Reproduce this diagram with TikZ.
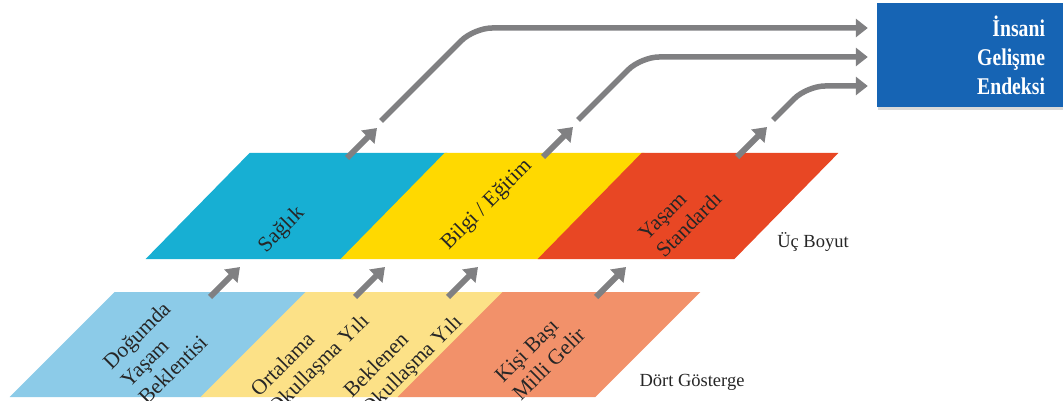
\documentclass[tikz,border=0pt]{standalone}
\usepackage{fontspec}
\setmainfont{Liberation Serif}
\newfontfamily\idefont[FakeStretch=0.82]{Liberation Serif}
\usepackage{tikz}
\usetikzlibrary{arrows.meta,shadows,positioning}
\definecolor{saglikc}{RGB}{23,175,211}
\definecolor{bilgic}{RGB}{255,217,0}
\definecolor{yasamc}{RGB}{232,71,36}
\definecolor{dogumc}{RGB}{140,203,232}
\definecolor{okulc}{RGB}{252,225,135}
\definecolor{gelirc}{RGB}{242,145,106}
\definecolor{ideblue}{RGB}{22,100,180}
\definecolor{okgray}{RGB}{128,128,130}
\tikzstyle{band}=[draw=white,line width=2pt]
\tikzstyle{lbl}=[rotate=45,align=left,inner sep=0pt,text=black!85,font=\fontsize{21.5}{25}\selectfont]
\tikzstyle{note}=[text=black!85,font=\fontsize{18.5}{22}\selectfont]
\tikzstyle{up}=[-{Triangle[length=13pt,width=18pt]},line width=6pt,draw=okgray]
\tikzstyle{long}=[-{Triangle[length=12pt,width=18pt]},line width=5.5pt,draw=okgray,rounded corners=18pt,shorten >=9pt]

\begin{document}
\begin{tikzpicture}[x=1pt,y=-1pt]
      \useasboundingbox (0,0) rectangle (1063,401);
      % uc boyut
      \fill[band,saglikc] (250,154) -- (445,154) -- (343,258) -- (148,258) -- cycle;
      \fill[band,bilgic]  (445,154) -- (642,154) -- (540,258) -- (343,258) -- cycle;
      \fill[band,yasamc]  (642,154) -- (836,154) -- (734,258) -- (540,258) -- cycle;
      % dort gosterge
      \fill[band,dogumc]  (115,293) -- (306,293) -- (203,396) -- (12,396) -- cycle;
      \fill[band,okulc]   (306,293) -- (405,293) -- (302,396) -- (203,396) -- cycle;
      \fill[band,okulc]   (405,293) -- (503,293) -- (400,396) -- (302,396) -- cycle;
      \fill[band,gelirc]  (503,293) -- (698,293) -- (595,396) -- (400,396) -- cycle;

      \node[lbl] at (282,230) (saglik) {Sağlık};
      \node[lbl] at (487,205) (bilgi) {Bilgi / Eğitim};
      \node[lbl] at (680,216) (yasam) {Yaşam\\Standardı};
      \node[lbl] at (155,352) (dogum) {Doğumda\\Yaşam\\Beklentisi};
      \node[lbl] at (311,356) (ortalama) {Ortalama\\Okullaşma Yılı};
      \node[lbl] at (404,357) (beklenen) {Beklenen\\Okullaşma Yılı};
      \node[lbl] at (540,355) (gelir) {Kişi Başı\\Milli Gelir};
      \node[note] at (813,242) (ucboyut) {Üç Boyut};
      \node[note] at (692,382) (dortgost) {Dört Gösterge};

      \node[fill=ideblue,drop shadow={opacity=0.3,shadow xshift=1pt,shadow yshift=-3pt},
            minimum width=186pt,minimum height=104pt,text width=150pt,inner xsep=18pt,
            align=right,text=white,font=\idefont\bfseries\fontsize{24}{29}\selectfont]
            at (970,55) (ide) {İnsani\\Gelişme\\Endeksi};

      \foreach \n/\x/\y in {1/210/297, 2/355/297, 3/448/297, 4/596/297, 5/347/158, 6/543/157, 7/737/157}
      {
        \coordinate (u\n) at (\x,\y);
        \coordinate (v\n) at (\x+30,\y-30);
        \draw[up] (u\n) -- (v\n);
      }

      \coordinate (a1) at (381,121); \coordinate (k1) at (474,28);
      \coordinate (a2) at (578,120); \coordinate (k2) at (641,57);
      \coordinate (a3) at (773,120); \coordinate (k3) at (807,86);
      \draw[long] (a1) -- (k1) -- (ide.west |- k1);
      \draw[long] (a2) -- (k2) -- (ide.west |- k2);
      \draw[long] (a3) -- (k3) -- (ide.west |- k3);
\end{tikzpicture}
\end{document}
